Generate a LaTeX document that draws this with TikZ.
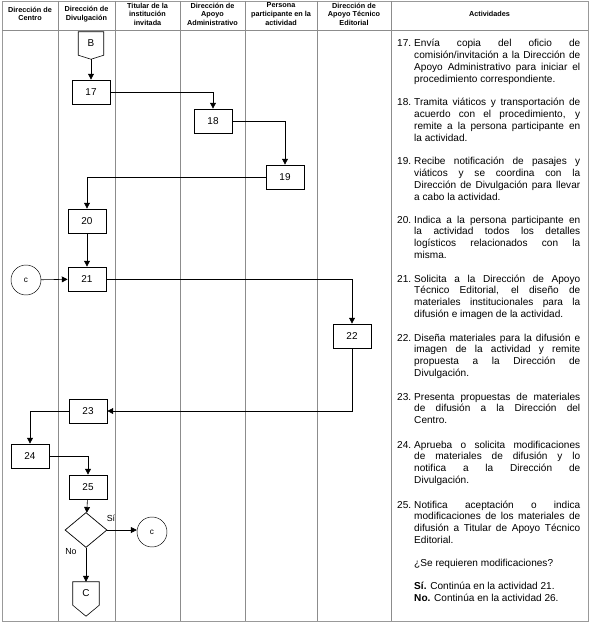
\documentclass[tikz,border=0pt]{standalone}
\usepackage{fontspec}
\setmainfont{Liberation Sans}
\usetikzlibrary{arrows.meta, shapes.geometric, positioning}

% numero colgado y parrafo justificado
\newcommand{\numtexto}[2]{\makebox[0.51cm][l]{#1}\parbox[t]{4.98cm}{\tolerance=10000\relax
  \hyphenpenalty=10000\relax\spaceskip=0.278em plus 1em minus 0.08em\relax #2}}

\begin{document}
\begin{tikzpicture}[
  x=0.03cm, y=-0.03cm,
  lane/.style={draw=black!45, line width=0.5pt},
  marco/.style={draw=black!40, line width=0.8pt},
  cabecera/.style={font=\fontsize{6.2}{7.3}\selectfont\bfseries, align=center, inner sep=0pt},
  paso/.style={draw, line width=0.6pt, minimum width=1.14cm, minimum height=0.72cm,
               inner sep=0pt, font=\fontsize{8.5}{9}\selectfont},
  enlace/.style={draw, circle, line width=0.4pt, minimum size=0.9cm, inner sep=0pt,
                 font=\fontsize{7}{8}\selectfont},
  pagina/.style={inner sep=0pt, font=\fontsize{8.5}{9}\selectfont},
  borde/.style={draw, line width=0.5pt, line join=miter},
  decision/.style={draw, diamond, line width=0.6pt, minimum width=1.26cm,
                   minimum height=1.05cm, inner sep=0pt},
  flecha/.style={-{Triangle[length=5pt, width=5pt]}, line width=0.5pt},
  actividad/.style={anchor=base west, inner sep=0pt, font=\fontsize{8.6}{10}\selectfont},
  etiqueta/.style={font=\fontsize{7.5}{9}\selectfont, inner sep=0pt}
]
  \useasboundingbox (0,0) rectangle (590,623);

  % marco y carriles
  \draw[marco] (2,1) rectangle (588,621);
  \draw[lane] (2,30) -- (588,30);
  \foreach \x in {58,115,180,245,317,391}
    \draw[lane] (\x,1) -- (\x,621);

  % encabezados
  \node[cabecera] (h1) at (30,14) {Dirección de\\Centro};
  \node[cabecera] (h2) at (86.5,14) {Dirección de\\Divulgación};
  \node[cabecera] (h3) at (147.5,14) {Titular de la\\institución\\invitada};
  \node[cabecera] (h4) at (212.5,14) {Dirección de\\Apoyo\\Administrativo};
  \node[cabecera] (h5) at (281,14) {Persona\\participante en la\\actividad};
  \node[cabecera] (h6) at (354,14) {Dirección de\\Apoyo Técnico\\Editorial};
  \node[cabecera] (h7) at (489.5,14) {Actividades};

  % diagrama
  \node[pagina, minimum width=0.75cm, minimum height=0.69cm] (pB) at (91,43.5) {B};
  \coordinate (pBtip) at ([yshift=-0.12cm]pB.south);
  \draw[borde] (pB.north west) -- (pB.north east) -- (pB.south east) -- (pBtip)
    -- (pB.south west) -- cycle;
  \node[paso] (s17) at (91,92) {17};
  \node[paso] (s18) at (213,121) {18};
  \node[paso] (s19) at (285,177) {19};
  \node[paso] (s20) at (87,221) {20};
  \node[paso] (s21) at (87,279) {21};
  \node[enlace] (cIn) at (26,280) {c};
  \node[paso] (s22) at (352,336) {22};
  \node[paso] (s23) at (88,411) {23};
  \node[paso] (s24) at (30,456) {24};
  \node[paso] (s25) at (88,487) {25};
  \node[decision] (d25) at (86,530) {};
  \node[enlace] (cOut) at (152,532) {c};
  \node[pagina, minimum width=0.78cm, minimum height=0.69cm] (pC) at (86,593.5) {C};
  \coordinate (pCtip) at ([yshift=-0.33cm]pC.south);
  \draw[borde] (pC.north west) -- (pC.north east) -- (pC.south east) -- (pCtip)
    -- (pC.south west) -- cycle;
  \node[etiqueta] (lSi) at (111,518) {Sí};
  \node[etiqueta] (lNo) at (71,552) {No};

  \draw[flecha] (pBtip) -- (s17);
  \draw[flecha] (s17.east) -| (s18.north);
  \draw[flecha] (s18.east) -| (s19.north);
  \draw[flecha] (s19.west) -| (s20.north);
  \draw[flecha] (s20) -- (s21);
  \draw[flecha] (cIn) -- (s21);
  \draw[flecha] (s21.east) -| (s22.north);
  \draw[flecha] (s22.south) |- (s23.east);
  \draw[flecha] (s23.west) -| (s24.north);
  \draw[flecha] (s24.east) -| (s25.north);
  \draw[flecha] (s25) -- (d25);
  \draw[flecha] (d25.east) -- (d25.east -| cOut.west);
  \draw[flecha] (d25.south) -- (pC.north);

  % actividades
  \node[actividad] (t17) at (397,47) {\numtexto{17.}{Envía copia del oficio de\linebreak comisión/invitación a la Dirección de\linebreak Apoyo Administrativo para iniciar el\linebreak procedimiento correspondiente.}};
  \node[actividad] (t18) at (397,106) {\numtexto{18.}{Tramita viáticos y transportación de\linebreak acuerdo con el procedimiento, y\linebreak remite a la persona participante en\linebreak la actividad.}};
  \node[actividad] (t19) at (397,165) {\numtexto{19.}{Recibe notificación de pasajes y\linebreak viáticos y se coordina con la\linebreak Dirección de Divulgación para llevar\linebreak a cabo la actividad.}};
  \node[actividad] (t20) at (397,223) {\numtexto{20.}{Indica a la persona participante en\linebreak la actividad todos los detalles\linebreak logísticos relacionados con la\linebreak misma.}};
  \node[actividad] (t21) at (397,282) {\numtexto{21.}{Solicita a la Dirección de Apoyo\linebreak Técnico Editorial, el diseño de\linebreak materiales institucionales para la\linebreak difusión e imagen de la actividad.}};
  \node[actividad] (t22) at (397,341) {\numtexto{22.}{Diseña materiales para la difusión e\linebreak imagen de la actividad y remite\linebreak propuesta a la Dirección de\linebreak Divulgación.}};
  \node[actividad] (t23) at (397,400) {\numtexto{23.}{Presenta propuestas de materiales\linebreak de difusión a la Dirección del\linebreak Centro.}};
  \node[actividad] (t24) at (397,448) {\numtexto{24.}{Aprueba o solicita modificaciones\linebreak de materiales de difusión y lo\linebreak notifica a la Dirección de\linebreak Divulgación.}};
  \node[actividad] (t25) at (397,508) {\numtexto{25.}{Notifica aceptación o indica\linebreak modificaciones de los materiales de\linebreak difusión a Titular de Apoyo Técnico\linebreak Editorial.}};
  \node[actividad] (tPreg) at (414,566) {¿Se requieren modificaciones?};
  \node[actividad] (tSi) at (414,589) {\textbf{Sí.} Continúa en la actividad 21.};
  \node[actividad] (tNo) at (414,601) {\textbf{No.} Continúa en la actividad 26.};
\end{tikzpicture}
\end{document}
